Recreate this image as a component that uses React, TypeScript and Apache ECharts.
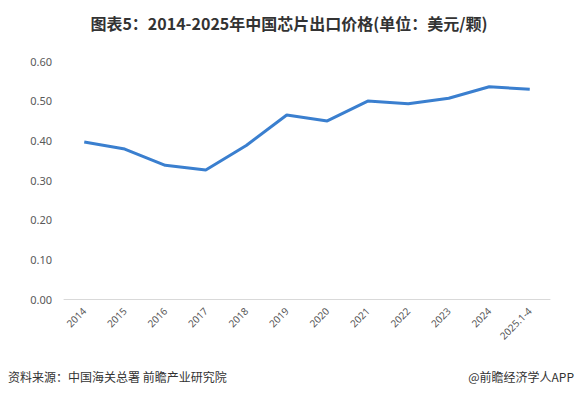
import React, { useEffect, useRef } from "react";
import * as echarts from "echarts";

const categories = ["2014", "2015", "2016", "2017", "2018", "2019", "2020", "2021", "2022", "2023", "2024", "2025.1-4"];
const prices = [0.396, 0.378, 0.337, 0.325, 0.387, 0.464, 0.449, 0.499, 0.492, 0.506, 0.535, 0.529];
const yTicks = [0, 0.1, 0.2, 0.3, 0.4, 0.5, 0.6];

export default function App() {
  const ref = useRef<HTMLDivElement>(null);
  useEffect(() => {
    if (!ref.current) return;
    const chart = echarts.init(ref.current, null, { renderer: "svg" });
    chart.setOption({
      animation: false,
      backgroundColor: "#ffffff",
      title: {
        text: "图表5：2014-2025年中国芯片出口价格(单位：美元/颗)",
        left: "center",
        top: 10,
        textStyle: { fontSize: 16, fontWeight: "bold", color: "#333333", fontFamily: "Noto Sans CJK SC" },
      },
      graphic: [
        {
          type: "text",
          left: 8,
          top: 370,
          style: { text: "资料来源：中国海关总署 前瞻产业研究院", fontSize: 12, fill: "#333333", fontFamily: "Noto Sans CJK SC" },
        },
        {
          type: "text",
          right: 4,
          top: 370,
          style: { text: "@前瞻经济学人APP", fontSize: 12, fill: "#333333", fontFamily: "Noto Sans CJK SC" },
        },
      ],
      grid: { left: 64, right: 28, top: 61, bottom: 98 },
      xAxis: {
        type: "category",
        data: categories,
        boundaryGap: true,
        axisLine: { lineStyle: { color: "#d9d9d9" } },
        axisTick: { show: false },
        axisLabel: { rotate: 45, fontSize: 10, color: "#595959", margin: 10, interval: 0, fontFamily: "Noto Sans" },
      },
      yAxis: {
        type: "value",
        min: yTicks[0],
        max: yTicks[yTicks.length - 1],
        interval: 0.1,
        splitLine: { show: false },
        axisLine: { show: false },
        axisTick: { show: false },
        axisLabel: { fontSize: 11, color: "#595959", margin: 12, formatter: (v: number) => v.toFixed(2), fontFamily: "Noto Sans" },
      },
      series: [
        {
          type: "line",
          data: prices,
          symbol: "none",
          lineStyle: { color: "#3a7fcf", width: 3 },
        },
      ],
    });
    return () => chart.dispose();
  }, []);
  return <div ref={ref} style={{ width: 578, height: 397, position: "absolute", left: 0, top: 0 }} />;
}
